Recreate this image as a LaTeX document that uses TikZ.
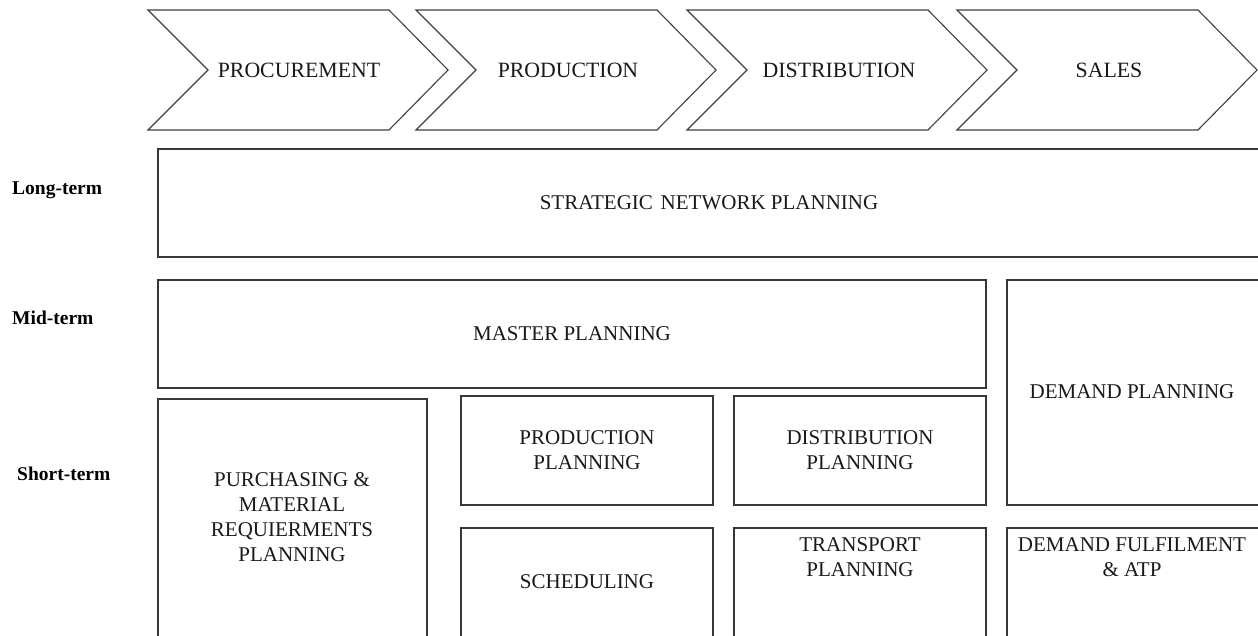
\documentclass[tikz,border=0pt]{standalone}
\usepackage{fontspec}
\setmainfont{Liberation Serif}
\begin{document}
\begin{tikzpicture}[x=1pt,y=-1pt,
  frame/.style={draw=black!78,line width=1.3pt},
  chev/.style={draw=black!75,line width=1.1pt,line join=miter},
  lbl/.style={font=\fontsize{21}{25}\selectfont,align=center,inner sep=0pt,text=black!90},
  clbl/.style={font=\fontsize{21.8}{25}\selectfont,align=center,inner sep=0pt,text=black!90},
  term/.style={font=\fontsize{19.5}{23}\selectfont\bfseries,anchor=west,inner sep=0pt}]
\useasboundingbox (0,0) rectangle (1258,635);
\clip (0,0) rectangle (1258,635);
\fill[white] (0,0) rectangle (1258,635);
% chevrons
\foreach \l in {148,416,687,957}{
  \draw[chev] (\l,10) -- ({\l+241},10) -- ({\l+300},70) -- ({\l+241},130) -- (\l,130) -- ({\l+60},70) -- cycle;
}
\node[clbl] (c1) at (299,70) {PROCUREMENT};
\node[clbl] (c2) at (568,70) {PRODUCTION};
\node[clbl] (c3) at (839,70) {DISTRIBUTION};
\node[clbl] (c4) at (1109,70) {SALES};
% term labels
\node[term] (lt) at (12,190) {Long-term};
\node[term] (mt) at (12,318) {Mid-term};
\node[term] (st) at (17,474) {Short-term};
% boxes
\draw[frame] (158,149) rectangle (1270,257);
\draw[frame] (158,280) rectangle (986,388);
\draw[frame] (1007,280) rectangle (1270,505);
\draw[frame] (158,399) rectangle (427,650);
\draw[frame] (461,396) rectangle (713,505);
\draw[frame] (734,396) rectangle (986,505);
\draw[frame] (461,528) rectangle (713,650);
\draw[frame] (734,528) rectangle (986,650);
\draw[frame] (1007,528) rectangle (1270,650);
% texts
\node[lbl] (snp) at (709,203) {STRATEGIC\hspace{0.12em} NETWORK PLANNING};
\node[lbl] (mp) at (572,334) {MASTER PLANNING};
\node[lbl] (dp) at (1132,392) {DEMAND PLANNING};
\node[lbl] (pmrp) at (292,517) {PURCHASING \&\\MATERIAL\\REQUIERMENTS\\PLANNING};
\node[lbl] (pp) at (587,450) {PRODUCTION\\PLANNING};
\node[lbl] (dip) at (860,450) {DISTRIBUTION\\PLANNING};
\node[lbl] (sch) at (587,582) {SCHEDULING};
\node[lbl] (tp) at (860,557) {TRANSPORT\\PLANNING};
\node[lbl] (df) at (1132,557) {DEMAND FULFILMENT\\\& ATP};
\end{tikzpicture}
\end{document}
